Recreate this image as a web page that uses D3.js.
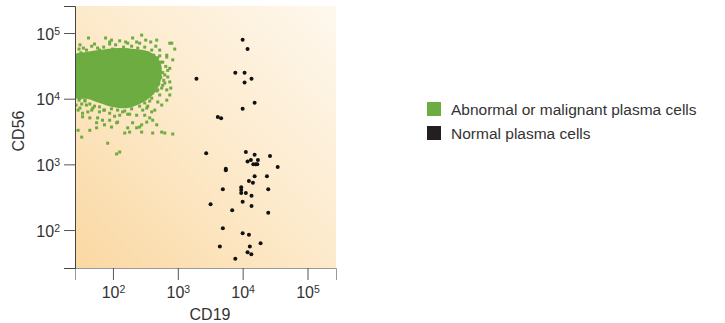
<!DOCTYPE html>
<html>
<head>
<meta charset="utf-8">
<script src="https://cdn.jsdelivr.net/npm/d3@7"></script>
<style>
body { margin: 0; background: #fff; }
text { font-family: "Liberation Sans", Arial, sans-serif; fill: #333; }
</style>
</head>
<body>
<script>
// tick values for both log axes
var tickValues = [1e2, 1e3, 1e4, 1e5]
var legendLabels = ["Abnormal or malignant plasma cells", "Normal plasma cells"]
var legendColors = ["#6cac40", "#231f20"]

// outline of the solid green core (CD19, CD56)
var coreOutline = [
    [25, 46000], [37, 51000], [62, 55000], [118, 59000], [216, 57000],
    [344, 53000], [457, 45000], [546, 34000], [565, 23000], [508, 15600],
    [396, 11000], [277, 8600], [169, 7200], [99, 7500], [62, 8600],
    [41, 9900], [25, 10600]
]

// scattered abnormal cells around the core (CD19, CD56)
var abnormalCells = [
    [42, 84000], [77, 84000], [89, 73000], [277, 93000], [232, 73000],
    [382, 73000], [807, 70000], [897, 57000], [30, 57000], [34, 43000],
    [676, 43000], [836, 39000], [700, 27000], [752, 18000], [630, 17300],
    [676, 13600], [201, 84000], [95, 78000], [473, 78000], [752, 70000],
    [39, 55000], [58, 59000], [526, 55000], [676, 46000], [586, 36000],
    [752, 29000], [630, 23000], [586, 16000], [779, 14500], [491, 13600],
    [29, 36000], [33, 25000], [27, 18000], [127, 76000], [169, 70000],
    [320, 78000], [52, 68000], [32, 50000], [457, 63000],
    [29, 6700], [34, 6000], [56, 4300], [56, 3600], [89, 4700],
    [114, 4300], [169, 3600], [201, 4300], [258, 3700], [332, 4400],
    [410, 4700], [410, 3000], [630, 3000], [836, 2900], [33, 2600],
    [83, 2100], [114, 1440], [127, 1540], [31, 7200], [34, 5300],
    [44, 5100], [58, 5100], [74, 4000], [95, 3700], [118, 4400],
    [232, 3600], [277, 4000], [369, 5100], [473, 4000], [29, 3300],
    [565, 3100], [277, 3100], [181, 3100], [676, 9500], [491, 8900],
    [396, 6300], [232, 5600], [141, 6300], [89, 6000], [62, 6300],
    [49, 7200], [39, 8000], [526, 11400], [332, 7200], [169, 5800],
    [106, 5400], [72, 6700], [37, 9200], [30, 9500], [309, 5600],
    [752, 11400], [565, 8000], [44, 3300], [152, 3000], [441, 6700],
    [69, 4700],
    [31, 66000], [35, 59000], [47, 63000], [54, 51000], [62, 55000],
    [72, 61000], [83, 51000], [99, 57000], [110, 66000], [118, 53000],
    [146, 61000], [169, 55000], [194, 63000], [216, 53000], [241, 59000],
    [277, 51000], [309, 61000], [344, 50000], [396, 55000], [425, 46000],
    [38, 46000], [31, 43000], [49, 48000], [89, 68000], [157, 73000],
    [258, 70000], [491, 42000], [546, 36000], [526, 29000], [586, 25000],
    [546, 21000], [607, 19000], [508, 16700], [565, 14500], [473, 13100],
    [410, 12200], [652, 31000], [700, 21400], [526, 45000], [396, 10200],
    [369, 9200], [31, 10200], [37, 9500], [44, 8300], [52, 7700],
    [62, 7500], [74, 6700], [95, 7000], [118, 6700], [152, 6500],
    [194, 7000], [258, 7700], [309, 8600], [47, 6700], [33, 8300],
    [181, 5800], [127, 5600], [288, 6700], [41, 6300], [27, 8000],
    [344, 7700]
]

// normal plasma cells (CD19, CD56)
var normalCells = [
    [10000, 79000], [11900, 57000], [7700, 24800], [10700, 24800], [1940, 20100],
    [13700, 20100], [10700, 17700], [15300, 8700], [10000, 7000], [4140, 5260],
    [4660, 5020], [2740, 1470], [11200, 1540], [15300, 1400], [26400, 1340],
    [13400, 1160], [11900, 1110], [17200, 1160], [14600, 1000], [16000, 1000],
    [16800, 1000], [34700, 910], [5500, 860], [5500, 810], [15300, 660],
    [23700, 660], [12500, 560], [14400, 525], [9500, 447], [9500, 406],
    [4950, 417], [24800, 417], [9500, 366], [11200, 366], [13700, 333],
    [10000, 270], [3200, 246], [13700, 232], [6900, 200], [24800, 183],
    [4950, 106], [10000, 89], [12500, 85], [18900, 63], [4450, 56],
    [12900, 56], [11900, 45.7], [13600, 42.7], [7700, 36.6]
]

var svg = d3.select("body").append("svg")
    .attr("width", 725)
    .attr("height", 323)

var plot = { left: 75, right: 336, top: 6, bottom: 268 }

var xScale = d3.scaleLog().domain([26, 2.75e5]).range([plot.left, plot.right])
var yScale = d3.scaleLog().domain([26.4, 2.58e5]).range([plot.bottom, plot.top])

// background gradient, orange at bottom-left fading to the top-right
var defs = svg.append("defs")
var grad = defs.append("linearGradient")
    .attr("id", "bg")
    .attr("x1", 0).attr("y1", 1).attr("x2", 1).attr("y2", 0)
grad.append("stop").attr("offset", "0%").attr("stop-color", "#fad8a2")
grad.append("stop").attr("offset", "50%").attr("stop-color", "#fdeacb")
grad.append("stop").attr("offset", "100%").attr("stop-color", "#fef8ee")

defs.append("clipPath").attr("id", "clip")
    .append("rect")
    .attr("x", plot.left).attr("y", plot.top)
    .attr("width", plot.right - plot.left)
    .attr("height", plot.bottom - plot.top)

svg.append("rect")
    .attr("x", plot.left).attr("y", plot.top)
    .attr("width", plot.right - plot.left)
    .attr("height", plot.bottom - plot.top)
    .attr("fill", "url(#bg)")

var marks = svg.append("g").attr("clip-path", "url(#clip)")

var coreLine = d3.line()
    .x(d => xScale(d[0]))
    .y(d => yScale(d[1]))
    .curve(d3.curveCatmullRomClosed)

marks.append("path")
    .datum(coreOutline)
    .attr("d", coreLine)
    .attr("fill", legendColors[0])

marks.selectAll("rect.abn")
    .data(abnormalCells)
    .enter().append("rect")
    .attr("class", "abn")
    .attr("x", d => xScale(d[0]) - 1.5)
    .attr("y", d => yScale(d[1]) - 1.5)
    .attr("width", 3)
    .attr("height", 3)
    .attr("fill", legendColors[0])

marks.selectAll("circle.norm")
    .data(normalCells)
    .enter().append("circle")
    .attr("class", "norm")
    .attr("cx", d => xScale(d[0]))
    .attr("cy", d => yScale(d[1]))
    .attr("r", 2)
    .attr("fill", "#111")

// axes
function powerLabel(sel) {
    sel.each(function (d) {
        var t = d3.select(this).text("10")
        t.append("tspan")
            .attr("dy", "-0.45em")
            .attr("font-size", "10.5px")
            .text(Math.round(Math.log10(d)))
    })
}

var xAxis = svg.append("g")
    .attr("transform", "translate(0," + plot.bottom + ")")
    .call(d3.axisBottom(xScale).tickValues(tickValues).tickSize(12).tickFormat(""))
xAxis.select(".domain").attr("stroke", "#999")
xAxis.selectAll(".tick line").attr("stroke", "#555")
xAxis.selectAll(".tick").append("text")
    .attr("y", 30)
    .attr("text-anchor", "middle")
    .attr("font-size", "16px")
    .call(powerLabel)

var yAxis = svg.append("g")
    .attr("transform", "translate(" + plot.left + ",0)")
    .call(d3.axisLeft(yScale).tickValues(tickValues).tickSize(11).tickFormat(""))
yAxis.select(".domain").attr("stroke", "#444")
yAxis.selectAll(".tick line").attr("stroke", "#555")
yAxis.selectAll(".tick").append("text")
    .attr("x", -15)
    .attr("y", 6)
    .attr("text-anchor", "end")
    .attr("font-size", "16px")
    .call(powerLabel)

svg.append("text")
    .attr("x", 210)
    .attr("y", 320)
    .attr("text-anchor", "middle")
    .attr("font-size", "16px")
    .text("CD19")

svg.append("text")
    .attr("transform", "translate(24,131) rotate(-90)")
    .attr("text-anchor", "middle")
    .attr("font-size", "16px")
    .text("CD56")

// legend
var legend = svg.append("g")
    .selectAll("g")
    .data(legendLabels)
    .enter().append("g")
    .attr("transform", (d, i) => "translate(427," + (102 + i * 24) + ")")
legend.append("rect")
    .attr("width", 14).attr("height", 14)
    .attr("fill", (d, i) => legendColors[i])
legend.append("text")
    .attr("x", 24).attr("y", 12.5)
    .attr("font-size", "15.5px")
    .attr("fill", "#222")
    .text(d => d)
</script>
</body>
</html>
